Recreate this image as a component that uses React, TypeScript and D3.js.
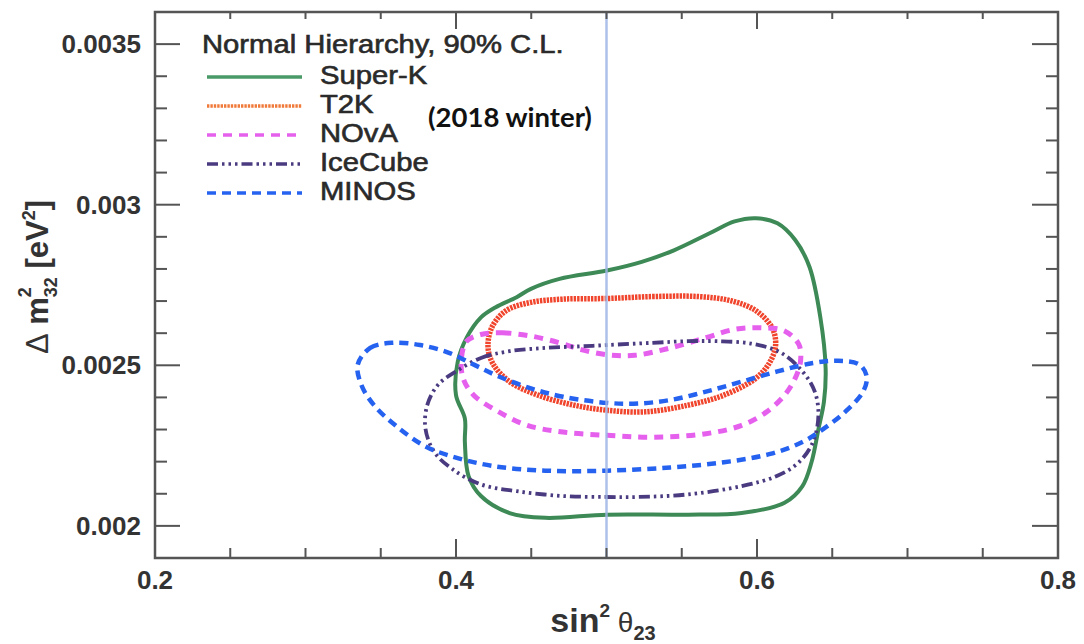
import React from "react";
import * as d3 from "d3";

type P = [number, number];

const superK: P[] = [
  [0.5993, 0.002958], [0.6136, 0.002942], [0.6254, 0.00289], [0.6349, 0.002806], [0.6421, 0.002649],
  [0.6456, 0.002491], [0.6445, 0.002387], [0.6409, 0.002303], [0.6362, 0.002198], [0.6302, 0.002124],
  [0.6183, 0.002072], [0.5898, 0.00204], [0.5542, 0.002035], [0.5003, 0.002035], [0.4593, 0.002025],
  [0.4356, 0.00204], [0.4166, 0.002093], [0.4083, 0.002156], [0.4059, 0.002261], [0.4059, 0.002334],
  [0.4, 0.002407], [0.4012, 0.002512], [0.4071, 0.002586], [0.4166, 0.002649], [0.4261, 0.00268],
  [0.4403, 0.002712], [0.4498, 0.002738], [0.4688, 0.002769], [0.5003, 0.002795], [0.5234, 0.002822],
  [0.5448, 0.002858], [0.5685, 0.002911], [0.5851, 0.002948],
];

const t2k: P[] = [
  [0.5003, 0.002708], [0.5305, 0.002714], [0.5613, 0.002714], [0.5827, 0.002701], [0.5993, 0.00267],
  [0.61, 0.002617], [0.6124, 0.002565], [0.6088, 0.002512], [0.5993, 0.00246], [0.5779, 0.002407],
  [0.5542, 0.002376], [0.5257, 0.002355], [0.5003, 0.00236], [0.4783, 0.002376], [0.4545, 0.002407],
  [0.4356, 0.002449], [0.4249, 0.002502], [0.4213, 0.002554], [0.4237, 0.002617], [0.4332, 0.00267],
  [0.4498, 0.002696], [0.4711, 0.002706],
];

const nova: P[] = [
  [0.4166, 0.002596], [0.4309, 0.002601], [0.4498, 0.002591], [0.4688, 0.00257], [0.4831, 0.002549],
  [0.5003, 0.002533], [0.5187, 0.002531], [0.5424, 0.002554], [0.5661, 0.002586], [0.5851, 0.002612],
  [0.6017, 0.002617], [0.6183, 0.002607], [0.6278, 0.002565], [0.6289, 0.002512], [0.6254, 0.00246],
  [0.6183, 0.002407], [0.6064, 0.002355], [0.5898, 0.002313], [0.5661, 0.002287], [0.5305, 0.002276],
  [0.5003, 0.002282], [0.4711, 0.002292], [0.4474, 0.002313], [0.4284, 0.002355], [0.4118, 0.002407],
  [0.4047, 0.00246], [0.4036, 0.002523], [0.4071, 0.002575],
];

const iceCube: P[] = [
  [0.4, 0.002481], [0.4166, 0.002523], [0.4356, 0.002544], [0.4593, 0.002554], [0.4831, 0.002559],
  [0.5003, 0.002563], [0.5305, 0.00257], [0.5542, 0.002575], [0.5732, 0.002575], [0.5969, 0.002567],
  [0.6159, 0.002539], [0.6302, 0.002481], [0.6384, 0.002418], [0.6408, 0.002344], [0.6372, 0.002261],
  [0.6278, 0.002198], [0.6135, 0.002156], [0.5898, 0.002124], [0.5542, 0.002098], [0.5209, 0.00209],
  [0.5003, 0.00209], [0.4711, 0.002093], [0.4403, 0.002108], [0.4166, 0.002129], [0.3976, 0.002177],
  [0.3857, 0.002229], [0.3797, 0.002303], [0.3809, 0.002376], [0.388, 0.002439],
];

const minos: P[] = [
  [0.3347, 0.002502], [0.343, 0.002554], [0.3573, 0.00257], [0.3762, 0.002563], [0.3953, 0.002539],
  [0.4119, 0.002502], [0.4285, 0.002465], [0.4498, 0.002428], [0.4712, 0.002402], [0.5003, 0.002383],
  [0.521, 0.002381], [0.5424, 0.002392], [0.5661, 0.002418], [0.5898, 0.002449], [0.6136, 0.002481],
  [0.6372, 0.002507], [0.6538, 0.002514], [0.6681, 0.002502], [0.6729, 0.002465], [0.6705, 0.002418],
  [0.6586, 0.002355], [0.6444, 0.002303], [0.6302, 0.002261], [0.6088, 0.002224], [0.578, 0.002198],
  [0.5424, 0.002182], [0.5003, 0.002172], [0.4593, 0.002172], [0.4237, 0.002187], [0.3953, 0.002219],
  [0.3787, 0.00225], [0.3597, 0.002313], [0.3455, 0.002376], [0.3371, 0.002439],
];

const seriesNames = ["Super-K", "T2K", "NOvA", "IceCube", "MINOS"];
const seriesData = [superK, t2k, nova, iceCube, minos];
const seriesColors = ["#3d8a57", "#f0452c", "#e660ee", "#4a3a80", "#2662f0"];
const legendColors = ["#4a9a68", "#f07a3a", "#e660ee", "#4a3a80", "#2662f0"];
const seriesWidths = [4, 5.5, 5, 3.8, 4.5];
const seriesDashes = ["", "2.4 1", "9 7", "11 4 2.5 4 2.5 4 2.5 4", "9 6"];

const xTickLabels = ["0.2", "0.4", "0.6", "0.8"];
const yTickLabels = ["0.002", "0.0025", "0.003", "0.0035"];

const W = 1084;
const H = 644;
const L = 155, R = 1058, T = 12, B = 558;

export default function App() {
  const x = d3.scaleLinear().domain([0.2, 0.8]).range([L, R]);
  const y = d3.scaleLinear().domain([0.0019, 0.0036]).range([B, T]);
  const line = d3
    .line<P>()
    .x((d) => x(d[0]))
    .y((d) => y(d[1]))
    .curve(d3.curveCatmullRomClosed.alpha(0.5));

  const xMinor = d3.range(4, 17).map((i) => ({ v: i / 20, major: i % 4 === 0 }));
  const yMinor = d3.range(19, 37).map((i) => ({ v: i / 10000, major: i % 5 === 0 }));
  const axisCol = "#555";
  const sans = "'Liberation Sans', Arial, Helvetica, sans-serif";

  const legendBase = [84, 113, 142, 171, 200];

  return (
    <svg
      width={W}
      height={H}
      style={{ position: "absolute", left: 0, top: 0, background: "#fff" }}
      fontFamily={sans}
    >
      <rect x={0} y={0} width={W} height={H} fill="#fff" />
      {seriesData.map((d, i) => (
        <path
          key={seriesNames[i]}
          d={line(d) || ""}
          fill="none"
          stroke={seriesColors[i]}
          strokeWidth={seriesWidths[i]}
          strokeDasharray={seriesDashes[i] || undefined}
          strokeLinecap="butt"
        />
      ))}
      <line x1={x(0.5)} x2={x(0.5)} y1={T} y2={B} stroke="#9fb6e6" strokeWidth={2.5} opacity={0.85} />

      {xMinor.map((t, i) => (
        <g key={"xt" + i}>
          <line x1={x(t.v)} x2={x(t.v)} y1={B} y2={B - (t.major ? 19 : 10)} stroke={axisCol} strokeWidth={2} />
          <line x1={x(t.v)} x2={x(t.v)} y1={T} y2={T + (t.major ? 17 : 7)} stroke={axisCol} strokeWidth={2} />
        </g>
      ))}
      {yMinor.map((t, i) => (
        <g key={"yt" + i}>
          <line x1={L} x2={L + (t.major ? 25 : 12)} y1={y(t.v)} y2={y(t.v)} stroke={axisCol} strokeWidth={2} />
          <line x1={R} x2={R - (t.major ? 26 : 12)} y1={y(t.v)} y2={y(t.v)} stroke={axisCol} strokeWidth={2} />
        </g>
      ))}
      <rect x={L} y={T} width={R - L} height={B - T} fill="none" stroke={axisCol} strokeWidth={2.5} />

      {xTickLabels.map((s) => (
        <text key={s} x={x(+s)} y={589} textAnchor="middle" fontSize={26} fontWeight="bold" fill="#333">
          {s}
        </text>
      ))}
      {yTickLabels.map((s) => (
        <text key={s} x={141} y={y(+s) + 9} textAnchor="end" fontSize={26} fontWeight="bold" fill="#333">
          {s}
        </text>
      ))}

      <text x={603} y={632} textAnchor="middle" fill="#333" fontWeight="bold" fontSize={34}>
        <tspan>sin</tspan>
        <tspan fontSize={19} dy={-15}>2</tspan>
        <tspan fontWeight="normal" fontSize={28} dy={15}> θ</tspan>
        <tspan fontSize={20} dy={8}>23</tspan>
      </text>

      <text transform="translate(48,277) rotate(-90)" textAnchor="middle" fill="#333" fontSize={31} fontWeight="bold">
        <tspan fontWeight="normal">Δ</tspan>
        <tspan> m</tspan>
        <tspan fontSize={18} dy={-17}>2</tspan>
        <tspan fontSize={18} dx={-10} dy={26}>32</tspan>
        <tspan dy={-9}> [eV</tspan>
        <tspan fontSize={18} dy={-13}>2</tspan>
        <tspan dy={13}>]</tspan>
      </text>

      <text transform="translate(202,53) scale(1.17,1)" fontSize={25} fill="#2a2a2a" stroke="#2a2a2a" strokeWidth={0.6}>
        Normal Hierarchy, 90% C.L.
      </text>
      {seriesNames.map((n, i) => (
        <g key={"lg" + n}>
          <line
            x1={207}
            x2={302}
            y1={legendBase[i] - 7}
            y2={legendBase[i] - 7}
            stroke={legendColors[i]}
            strokeWidth={3.5}
            strokeDasharray={seriesDashes[i] || undefined}
          />
          <text
            transform={`translate(320,${legendBase[i]}) scale(1.17,1)`}
            fontSize={25}
            fill="#2a2a2a"
            stroke="#2a2a2a"
            strokeWidth={0.6}
          >
            {n}
          </text>
        </g>
      ))}
      <text x={428} y={127} fontFamily="Lato, 'Open Sans', sans-serif" fontWeight="bold" fontSize={27.5} fill="#111">
        (2018 winter)
      </text>
    </svg>
  );
}
